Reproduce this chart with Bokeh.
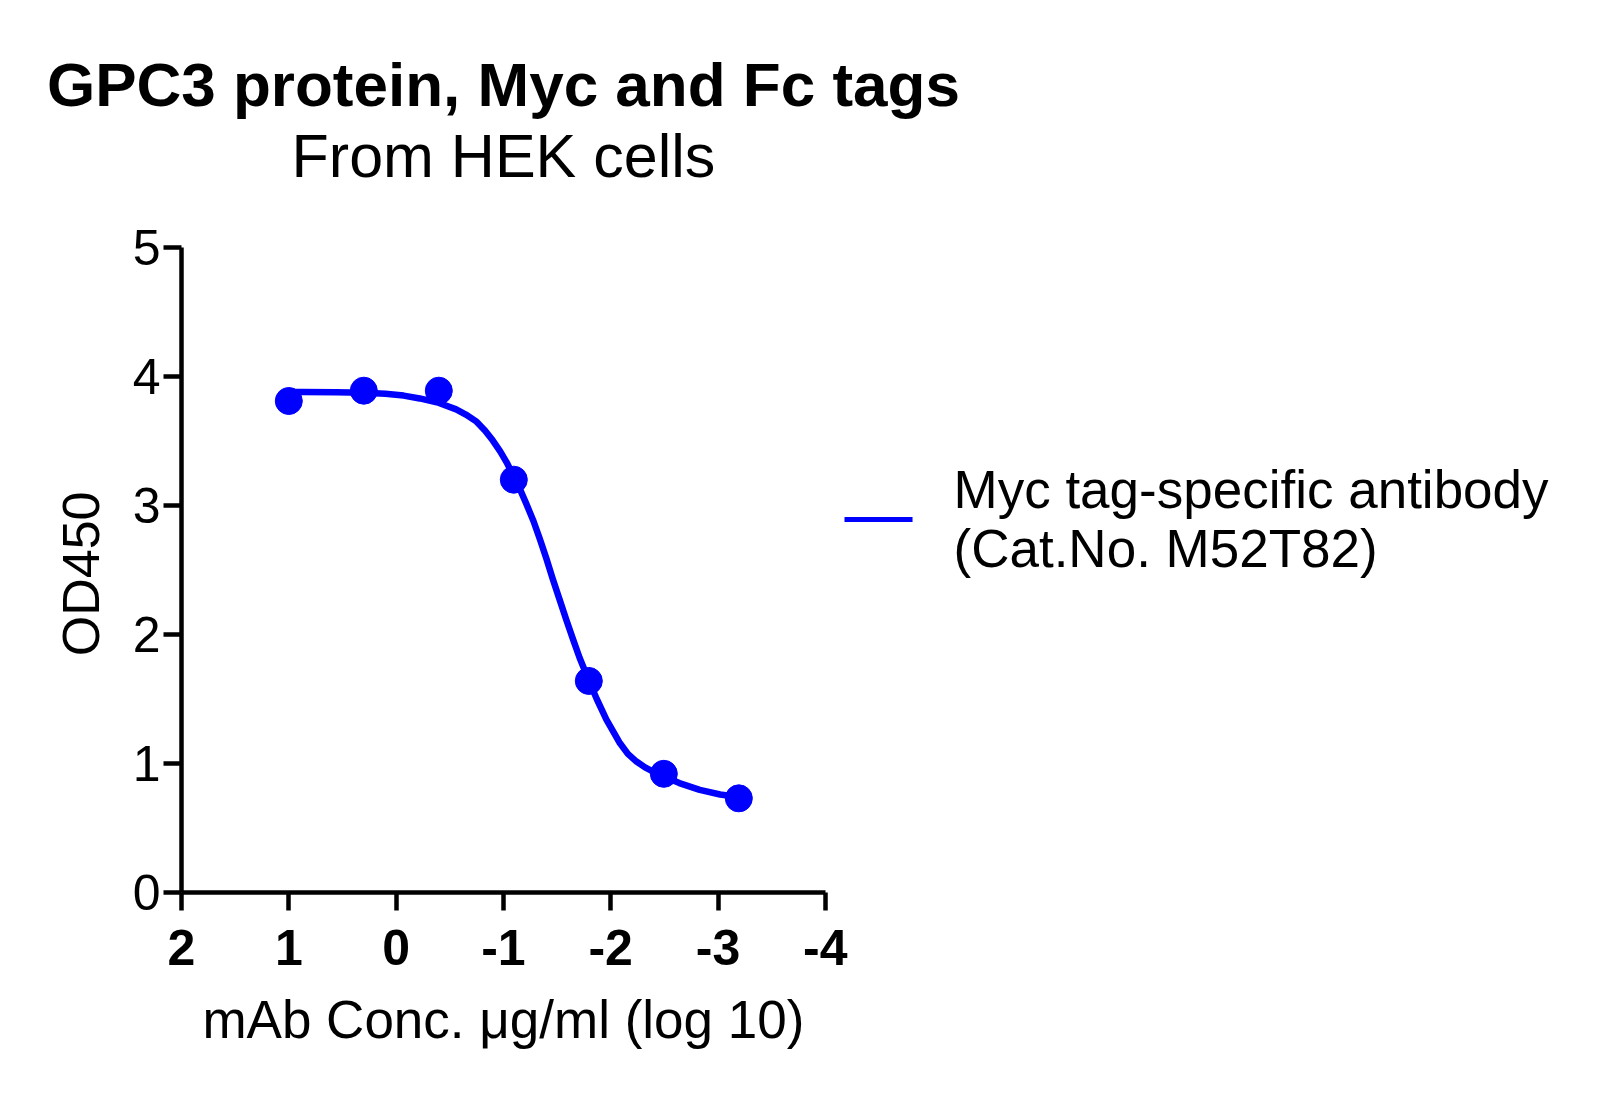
import math
from bokeh.plotting import figure
from bokeh.models import Range1d, FixedTicker
from bokeh.core.properties import value
from bokeh.embed import file_html
from bokeh.resources import INLINE

# ---- data ----
conc_log = [1.0, 0.301, -0.398, -1.097, -1.796, -2.495, -3.194]
od450 = [3.81, 3.89, 3.89, 3.20, 1.64, 0.92, 0.73]

fit_x = [1.00, 0.88, 0.56, 0.30, 0.10, -0.07, -0.22, -0.40, -0.56, -0.65,
         -0.75, -0.83, -0.90, -0.97, -1.03, -1.10, -1.16, -1.21, -1.28, -1.34,
         -1.40, -1.46, -1.52, -1.59, -1.65, -1.71, -1.80, -1.87, -1.96, -2.08,
         -2.16, -2.24, -2.32, -2.40, -2.50, -2.64, -2.83, -3.02, -3.19]
fit_y = [3.880, 3.879, 3.878, 3.874, 3.866, 3.852, 3.830, 3.795, 3.745, 3.705,
         3.650, 3.580, 3.505, 3.420, 3.335, 3.220, 3.115, 3.020, 2.880, 2.740,
         2.590, 2.430, 2.280, 2.105, 1.960, 1.820, 1.635, 1.500, 1.340, 1.165,
         1.075, 1.015, 0.970, 0.935, 0.897, 0.848, 0.795, 0.760, 0.740]

x_ticks = [2, 1, 0, -1, -2, -3, -4]
y_ticks = [0, 1, 2, 3, 4, 5]

title_text = "GPC3 protein, Myc and Fc tags"
subtitle_text = "From HEK cells"
x_label = "mAb Conc. \u03bcg/ml (log 10)"
y_label = "OD450"
series_name = "Myc tag-specific antibody"
series_cat = "(Cat.No. M52T82)"

FONT = "Liberation Sans"
BLUE = "#0000FF"

# geometry: the frame covers the whole canvas, axes sit at fixed locations
W, H = 1580, 1090
X0_PX, Y0_PX = 181, 892      # canvas position of (x=2, y=0)
X_PX, Y_PX = 107.3, 129.0    # pixels per data unit

p = figure(frame_width=W, frame_height=H,
           x_range=Range1d(2 + X0_PX / X_PX, 2 - (W - X0_PX) / X_PX),
           y_range=Range1d(-(H - Y0_PX) / Y_PX, Y0_PX / Y_PX),
           output_backend="svg", toolbar_location=None,
           min_border_left=0, min_border_right=0,
           min_border_top=0, min_border_bottom=0)
p.outline_line_color = None
p.grid.visible = False
p.background_fill_color = "white"
p.border_fill_color = "white"

# fitted curve and points
p.line(fit_x, fit_y, line_color=BLUE, line_width=6.5, line_join="round", line_cap="round")
p.scatter(conc_log, od450, size=27, fill_color=BLUE, line_color=BLUE)

# axes
for ax in (p.xaxis[0], p.yaxis[0]):
    ax.axis_line_width = 4.5
    ax.axis_line_color = "black"
    ax.major_tick_line_width = 4.5
    ax.major_tick_line_color = "black"
    ax.major_tick_out = 18
    ax.major_tick_in = 0
    ax.minor_tick_line_color = None
    ax.major_label_text_font = FONT
    ax.major_label_text_color = "black"
    ax.major_label_text_font_size = "50px"

xa = p.xaxis[0]
xa.fixed_location = 0
xa.bounds = (min(x_ticks), max(x_ticks))
xa.ticker = FixedTicker(ticks=x_ticks)
xa.major_label_overrides = {t: str(t) for t in x_ticks}
xa.major_label_text_font_style = "bold"
xa.major_label_standoff = 19

ya = p.yaxis[0]
ya.fixed_location = 2
ya.bounds = (min(y_ticks), max(y_ticks))
ya.ticker = FixedTicker(ticks=y_ticks)
ya.major_label_overrides = {t: str(t) for t in y_ticks}
ya.major_label_standoff = 3

# axis titles
p.text(x=[-1.0], y=[-0.985], text=[x_label], text_align="center",
       text_baseline="alphabetic", text_font=value(FONT),
       text_font_size="53px", text_color="black")
p.text(x=[2.94], y=[2.47], text=[y_label], angle=math.pi / 2,
       text_align="center", text_baseline="alphabetic",
       text_font=value(FONT), text_font_size="52px", text_color="black")

# titles
p.text(x=[-1.0], y=[6.263], text=[title_text], text_align="center",
       text_baseline="alphabetic", text_font=value(FONT),
       text_font_size="62px", text_font_style="bold", text_color="black")
p.text(x=[-1.0], y=[5.713], text=[subtitle_text], text_align="center",
       text_baseline="alphabetic", text_font=value(FONT),
       text_font_size="61px", text_color="black")

# legend
p.line([-4.179, -4.813], [2.891, 2.891], line_color=BLUE, line_width=5)
p.text(x=[-5.195], y=[3.124], text=[series_name], text_align="left",
       text_baseline="alphabetic", text_font=value(FONT),
       text_font_size="53px", text_color="black")
p.text(x=[-5.195], y=[2.666], text=[series_cat], text_align="left",
       text_baseline="alphabetic", text_font=value(FONT),
       text_font_size="53px", text_color="black")

open("out.html", "w").write(file_html(p, INLINE))
